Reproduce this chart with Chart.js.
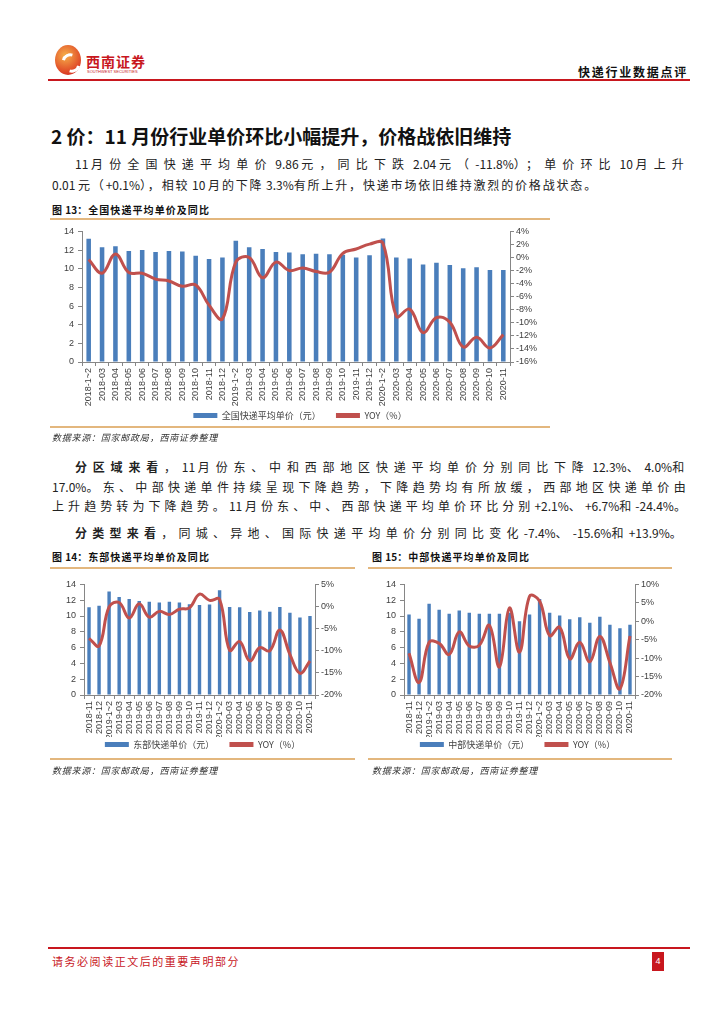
<!DOCTYPE html>
<html>
<head>
<meta charset="utf-8">
<script src="https://cdn.jsdelivr.net/npm/chart.js@4.4.1/dist/chart.umd.min.js"></script>
<style>
  body { margin: 0; background: #fff; font-family: "Noto Sans CJK SC", sans-serif; color: #222; }
  .page { position: relative; width: 724px; height: 1024px; overflow: hidden; }
  .abs { position: absolute; white-space: nowrap; }
  .line { position: absolute; font-size: 12px; line-height: 16px; white-space: nowrap; color: #222; }
  .fig { position: absolute; font-size: 10px; font-weight: 700; color: #111; white-space: nowrap; }
  .rule { position: absolute; height: 2px; background: #e3b77e; }
  .src { position: absolute; font-size: 9px; font-style: italic; color: #333; white-space: nowrap; }
  .box { position: absolute; }
</style>
</head>
<body>
<div class="page">
  <!-- header -->
  <div class="abs" style="left:55px;top:45px;width:26px;height:30px;border-radius:50%;background:radial-gradient(circle at 40% 35%, #f6b04a, #e2522a 60%, #c8171e);"></div>
  <div class="abs" style="left:62px;top:53px;width:12px;height:14px;border:3px solid #fff;border-left-color:transparent;border-right-color:transparent;border-radius:50%;transform:rotate(-30deg);"></div>
  <div class="abs" style="left:86px;top:51px;font-size:14px;font-weight:700;color:#c8171e;letter-spacing:1px;">西南证券</div>
  <div class="abs" style="left:87px;top:69px;font-size:4px;color:#c8171e;font-family:'Liberation Sans';">SOUTHWEST SECURITIES</div>
  <div class="abs" data-w="110" style="left:578px;top:63px;font-size:12px;font-weight:700;color:#111;">快递行业数据点评</div>
  <div class="abs" style="left:48px;top:79px;width:642px;height:2px;background:#c8171e;"></div>

  <div class="abs" style="left:51px;top:122px;font-size:19px;font-weight:700;color:#111;">2 价：11 月份行业单价环比小幅提升，价格战依旧维持</div>

  <div class="line" data-w="615" style="left:75px;top:156px;">11 月份全国快递平均单价 9.86 元，同比下跌 2.04 元（-11.8%）；单价环比 10 月上升</div>
  <div class="line" data-w="546" style="left:52px;top:177px;">0.01 元（+0.1%），相较 10 月的下降 3.3%有所上升，快递市场依旧维持激烈的价格战状态。</div>

  <div class="fig" data-w="158" style="left:52px;top:202px;">图 13：全国快递平均单价及同比</div>
  <div class="rule" style="left:50px;top:218px;width:500px;"></div>
  <div class="box" style="left:50px;top:222px;width:500px;height:208px;"><canvas id="c1"></canvas></div>
  <div class="rule" style="left:50px;top:426px;width:500px;"></div>
  <div class="src" data-w="166" style="left:52px;top:431px;">数据来源：国家邮政局，西南证券整理</div>

  <div class="line" data-w="615" style="left:75px;top:459px;"><b>分区域来看</b>，11 月份东、中和西部地区快递平均单价分别同比下降 12.3%、4.0%和</div>
  <div class="line" data-w="638" style="left:52px;top:479px;">17.0%。东、中部快递单件持续呈现下降趋势，下降趋势均有所放缓，西部地区快递单价由</div>
  <div class="line" data-w="638" style="left:52px;top:498px;">上升趋势转为下降趋势。11 月份东、中、西部快递平均单价环比分别+2.1%、+6.7%和-24.4%。</div>
  <div class="line" data-w="612" style="left:75px;top:525px;"><b>分类型来看</b>，同城、异地、国际快递平均单价分别同比变化-7.4%、-15.6%和+13.9%。</div>

  <div class="fig" data-w="158" style="left:52px;top:549px;">图 14：东部快递平均单价及同比</div>
  <div class="rule" style="left:50px;top:567px;width:305px;"></div>
  <div class="box" style="left:50px;top:575px;width:305px;height:184px;"><canvas id="c2"></canvas></div>
  <div class="rule" style="left:50px;top:758px;width:305px;"></div>
  <div class="src" data-w="166" style="left:52px;top:764px;">数据来源：国家邮政局，西南证券整理</div>

  <div class="fig" data-w="158" style="left:372px;top:549px;">图 15：中部快递平均单价及同比</div>
  <div class="rule" style="left:368px;top:567px;width:304px;"></div>
  <div class="box" style="left:365px;top:575px;width:305px;height:184px;"><canvas id="c3"></canvas></div>
  <div class="rule" style="left:368px;top:758px;width:304px;"></div>
  <div class="src" data-w="166" style="left:372px;top:764px;">数据来源：国家邮政局，西南证券整理</div>

  <!-- footer -->
  <div class="abs" style="left:48px;top:947px;width:642px;height:2px;background:#c8171e;"></div>
  <div class="abs" data-w="188" style="left:52px;top:953px;font-size:11px;color:#c8171e;">请务必阅读正文后的重要声明部分</div>
  <div class="abs" style="left:652px;top:952px;width:12px;height:19px;background:#c8171e;color:#fff;font-size:9px;line-height:19px;text-align:center;font-family:'Liberation Sans';">4</div>
</div>

<script>
// stretch text lines to the widths seen in the page: spread only the CJK glyphs, keep numbers tight
const cjk = /[\u3000-\u9fff\uff00-\uffef]+/g;
document.querySelectorAll('[data-w]').forEach((el) => {
  const walker = document.createTreeWalker(el, NodeFilter.SHOW_TEXT);
  const nodes = [];
  while (walker.nextNode()) nodes.push(walker.currentNode);
  const spans = [];
  let count = 0;
  nodes.forEach((node) => {
    const txt = node.textContent;
    const frag = document.createDocumentFragment();
    let last = 0;
    txt.replace(cjk, (m, idx) => {
      if (idx > last) frag.appendChild(document.createTextNode(txt.slice(last, idx)));
      const s = document.createElement('span');
      s.textContent = m;
      frag.appendChild(s);
      spans.push(s);
      count += m.length;
      last = idx + m.length;
      return m;
    });
    if (last < txt.length) frag.appendChild(document.createTextNode(txt.slice(last)));
    node.parentNode.replaceChild(frag, node);
  });
  const w = el.getBoundingClientRect().width;
  const ls = (+el.dataset.w - w) / count;
  spans.forEach((s) => { s.style.letterSpacing = ls + 'px'; });
});

// 全国
const nationalLabels = ['2018-1~2', '2018-03', '2018-04', '2018-05', '2018-06', '2018-07', '2018-08', '2018-09', '2018-10', '2018-11', '2018-12',
  '2019-1~2', '2019-03', '2019-04', '2019-05', '2019-06', '2019-07', '2019-08', '2019-09', '2019-10', '2019-11', '2019-12',
  '2020-1~2', '2020-03', '2020-04', '2020-05', '2020-06', '2020-07', '2020-08', '2020-09', '2020-10', '2020-11'];
const nationalPrice = [13.2, 12.3, 12.4, 11.9, 12.0, 11.8, 11.9, 11.85, 11.4, 11.05, 11.2,
  13.0, 12.3, 12.1, 11.8, 11.75, 11.55, 11.6, 11.55, 11.5, 11.2, 11.45,
  13.25, 11.2, 11.1, 10.45, 10.65, 10.4, 10.05, 10.15, 9.85, 9.86];
const nationalYoy = [-0.3, -2.4, 0.55, -2.3, -2.4, -3.3, -3.6, -4.4, -4.2, -7.3, -9.4,
  -0.7, 0, -3.1, -0.7, -2.0, -1.6, -2.15, -2.25, 0.65, 1.3, 2.05,
  2.2, -9.0, -7.9, -11.5, -9.2, -9.9, -13.7, -12.2, -13.85, -11.8];

// 东部 / 中部
const regionLabels = ['2018-11', '2018-12',
  '2019-1~2', '2019-03', '2019-04', '2019-05', '2019-06', '2019-07', '2019-08', '2019-09', '2019-10', '2019-11', '2019-12',
  '2020-1~2', '2020-03', '2020-04', '2020-05', '2020-06', '2020-07', '2020-08', '2020-09', '2020-10', '2020-11'];
const eastPrice = [11.1, 11.3, 13.1, 12.4, 12.15, 11.9, 11.8, 11.7, 11.8, 11.7, 11.5, 11.4, 11.45,
  13.25, 11.15, 11.1, 10.5, 10.7, 10.55, 11.15, 10.4, 9.8, 10.0];
const eastYoy = [-7.2, -8.9, -0.1, 0.9, -2.6, 0.6, -2.4, -1.1, -1.8, -0.6, -0.3, 2.8, 1.4,
  1.6, -9.9, -7.9, -12.3, -9.3, -10.0, -5.3, -10.8, -15.1, -12.3];
const centralPrice = [10.2, 9.65, 11.55, 10.8, 10.3, 10.7, 10.4, 10.3, 10.3, 10.3, 10.4, 9.35, 10.2,
  12.15, 10.4, 10.05, 9.6, 9.85, 9.15, 9.9, 8.9, 8.45, 8.9];
const centralYoy = [-8.7, -16.6, -5.7, -6.0, -9.0, -2.9, -6.7, -6.5, -1.1, -12.4, 3.6, -8.4, 6.8,
  5.5, -3.9, -1.6, -10.2, -5.7, -11.0, -4.1, -11.2, -18.3, -4.0];

const barColor = '#4a7ebb';
const lineColor = '#c0504d';
const axisColor = '#868686';
const tickFont = { family: "'Liberation Sans', Arial, sans-serif", size: 9 };
const legendFont = { family: "'Noto Sans CJK SC', sans-serif", size: 9 };

const make_chart = (id, labels, prices, yoy, priceName, yoyMin, yoyMax, yoyStep, dims) => {
  const axisGrid = { display: true, drawOnChartArea: false, drawTicks: true, tickLength: 4, color: axisColor };
  return new Chart(document.getElementById(id), {
    data: {
      labels: labels,
      datasets: [
        {
          type: 'bar', label: priceName + '      ', data: prices, yAxisID: 'y',
          backgroundColor: barColor, barPercentage: dims.bar, categoryPercentage: 1, order: 1,
        },
        {
          type: 'line', label: 'YOY（%）', data: yoy, yAxisID: 'y1',
          borderColor: lineColor, backgroundColor: lineColor, borderWidth: 3,
          pointRadius: 0, tension: 0.4, order: 0,
        },
      ],
    },
    options: {
      responsive: true,
      maintainAspectRatio: false,
      animation: false,
      layout: { padding: { top: dims.top, bottom: 0 } },
      plugins: {
        tooltip: { enabled: false },
        legend: {
          position: 'bottom',
          labels: {
            font: legendFont, color: '#404040', boxWidth: 24, boxHeight: 5, padding: 3,
            sort: (a, b) => a.datasetIndex - b.datasetIndex,
            generateLabels: (chart) => Chart.defaults.plugins.legend.labels.generateLabels(chart)
              .map((l) => ({ ...l, lineWidth: 0 })),
          },
        },
      },
      scales: {
        x: {
          grid: axisGrid,
          border: { display: true, color: axisColor },
          ticks: { autoSkip: false, maxRotation: 90, minRotation: 90, font: tickFont, color: '#404040', padding: 2 },
          afterFit: (s) => { s.height = dims.xh; },
        },
        y: {
          position: 'left', min: 0, max: 14,
          grid: axisGrid,
          border: { display: true, color: axisColor },
          ticks: { stepSize: 2, autoSkip: false, font: tickFont, color: '#404040', padding: 4 },
          afterFit: (s) => { s.width = dims.lw; },
        },
        y1: {
          position: 'right', min: yoyMin, max: yoyMax,
          grid: axisGrid,
          border: { display: true, color: axisColor },
          ticks: { stepSize: yoyStep, autoSkip: false, font: tickFont, color: '#404040', padding: 2, callback: (v) => v + '%' },
          afterFit: (s) => { s.width = dims.rw; },
        },
      },
    },
  });
};

make_chart('c1', nationalLabels, nationalPrice, nationalYoy, '全国快递平均单价（元）', -16, 4, 2,
  { top: 8, xh: 46, lw: 32, rw: 40, bar: 0.34 });
make_chart('c2', regionLabels, eastPrice, eastYoy, '东部快递单价（元）', -20, 5, 5,
  { top: 6, xh: 42, lw: 34, rw: 40, bar: 0.34 });
make_chart('c3', regionLabels, centralPrice, centralYoy, '中部快递单价（元）', -20, 10, 5,
  { top: 6, xh: 42, lw: 39, rw: 35, bar: 0.34 });
</script>
</body>
</html>
